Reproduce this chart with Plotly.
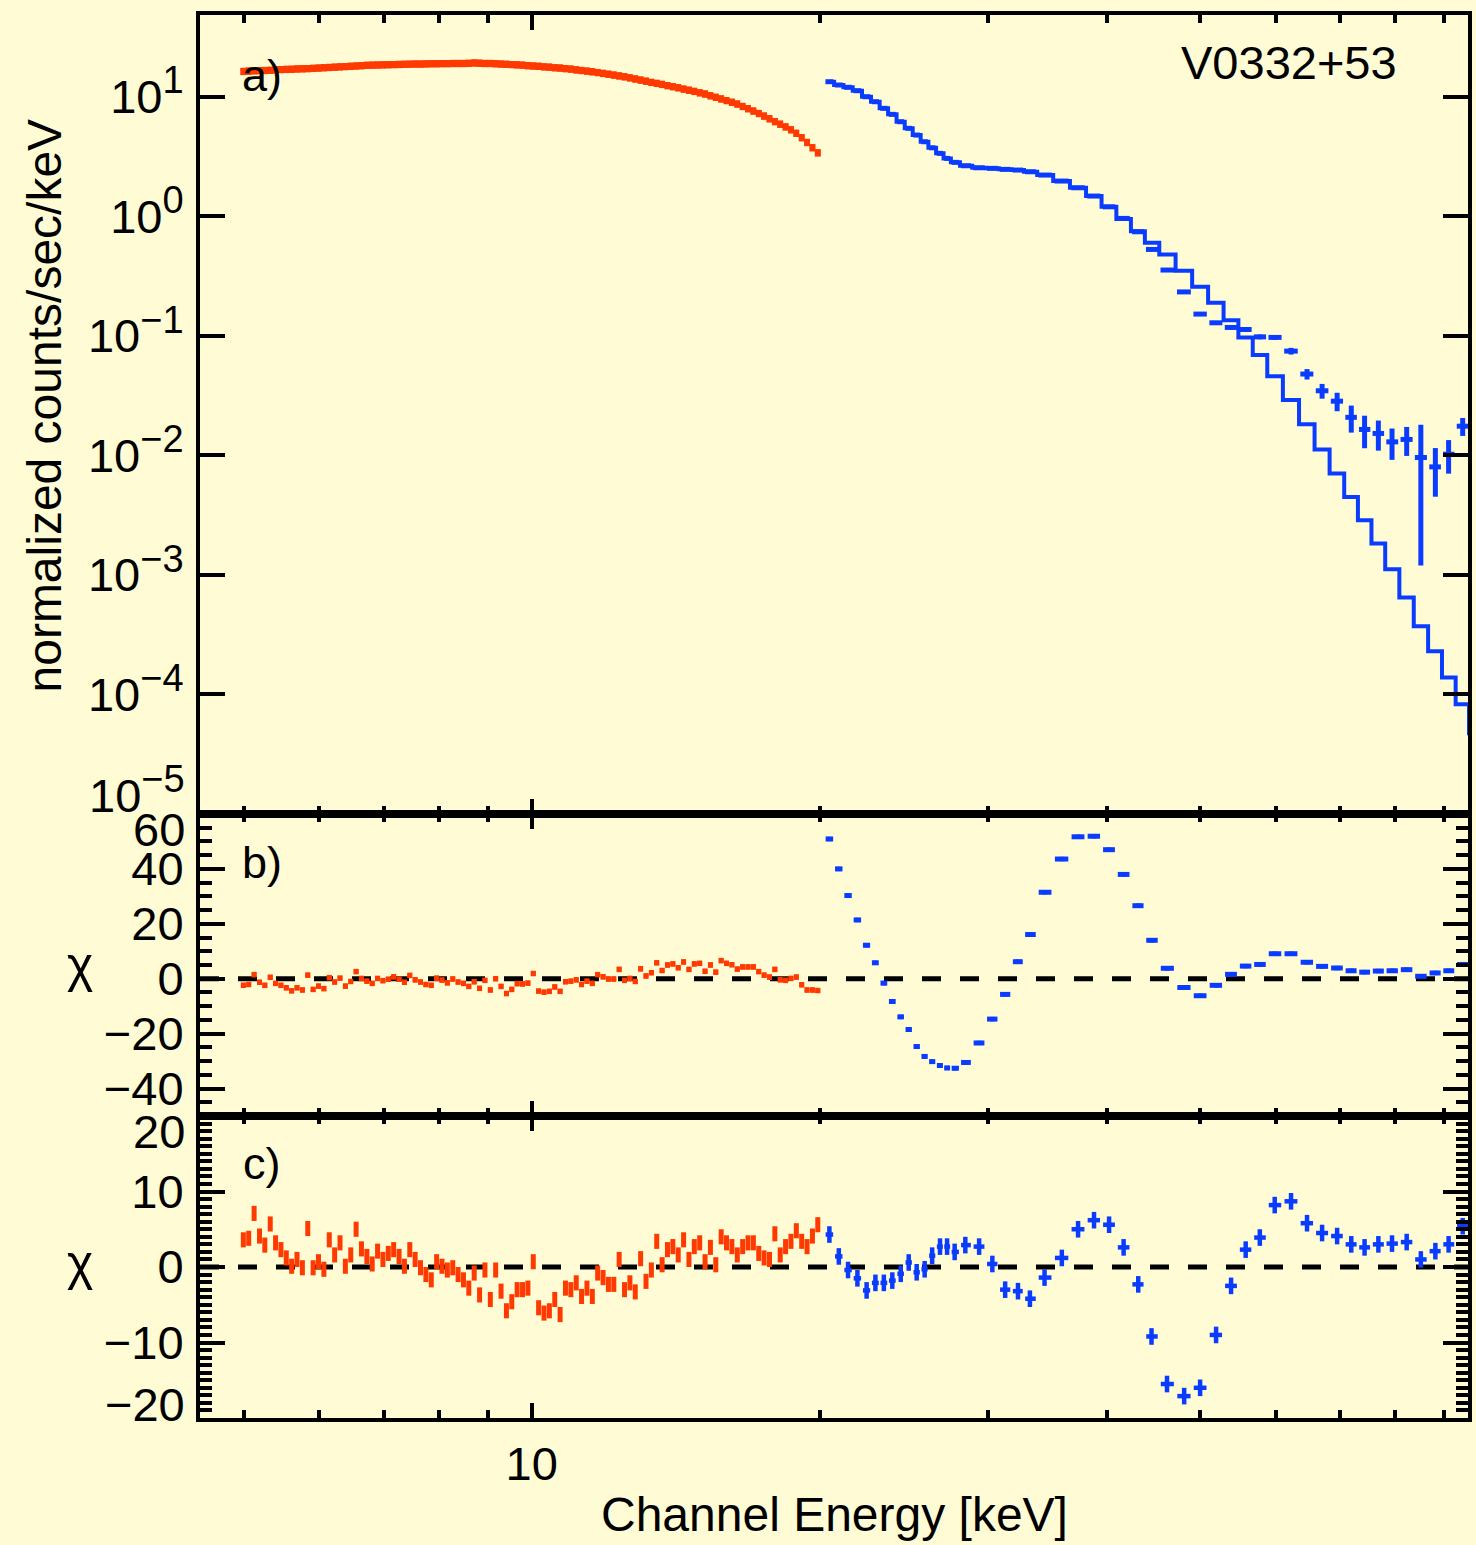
import numpy as np
import plotly.graph_objects as go

# ---------------- data ----------------
red_E = [4.995, 5.060, 5.126, 5.193, 5.260, 5.329, 5.398, 5.468, 5.539, 5.611,
         5.684, 5.758, 5.833, 5.909, 5.986, 6.064, 6.143, 6.223, 6.304, 6.386,
         6.469, 6.553, 6.638, 6.725, 6.812, 6.901, 6.990, 7.081, 7.173, 7.267,
         7.361, 7.457, 7.554, 7.652, 7.752, 7.853, 7.955, 8.058, 8.163, 8.270,
         8.377, 8.486, 8.596, 8.708, 8.822, 8.936, 9.053, 9.170, 9.290, 9.411,
         9.533, 9.657, 9.783, 9.910, 10.039, 10.169, 10.302, 10.436, 10.572, 10.709,
         10.848, 10.990, 11.133, 11.277, 11.424, 11.573, 11.723, 11.876, 12.030, 12.187,
         12.345, 12.506, 12.669, 12.833, 13.000, 13.170, 13.341, 13.514, 13.690, 13.868,
         14.049, 14.232, 14.417, 14.604, 14.794, 14.987, 15.182, 15.379, 15.579, 15.782,
         15.987, 16.195, 16.406, 16.620, 16.836, 17.055, 17.277, 17.501, 17.729, 17.960,
         18.193, 18.430, 18.670, 18.913, 19.159, 19.408, 19.661, 19.916]

red_flux = [16.3, 16.4, 16.5, 16.55, 16.6, 16.65, 16.8, 16.9, 16.95, 17.0,
            17.1, 17.15, 17.2, 17.3, 17.4, 17.5, 17.6, 17.7, 17.8, 17.9,
            18.0, 18.1, 18.2, 18.35, 18.4, 18.45, 18.5, 18.55, 18.6, 18.65,
            18.7, 18.75, 18.8, 18.8, 18.85, 18.9, 18.9, 18.95, 18.95, 19.0,
            19.0, 19.0, 19.05, 19.2, 19.1, 19.0, 19.0, 18.9, 18.8, 18.7,
            18.6, 18.5, 18.4, 18.2, 18.1, 18.0, 17.8, 17.7, 17.5, 17.4,
            17.2, 17.05, 16.8, 16.6, 16.4, 16.2, 15.95, 15.7, 15.45, 15.2,
            14.95, 14.7, 14.4, 14.1, 13.8, 13.5, 13.2, 12.95, 12.7, 12.4,
            12.15, 11.9, 11.6, 11.35, 11.1, 10.8, 10.55, 10.2, 9.9, 9.6,
            9.3, 9.0, 8.7, 8.3, 7.95, 7.6, 7.25, 6.9, 6.55, 6.2,
            5.9, 5.6, 5.3, 4.95, 4.55, 4.15, 3.75, 3.4]

red_chi_b = [-2.4, -2.1, 1.5, -1.3, -2.4, 0.5, -1.7, -2.4, -3.3, -4.4,
             -3.3, -4.1, 1.3, -3.9, -2.7, -3.6, 0.4, -1.2, 0.2, -2.7,
             -1.0, 2.6, 0.1, -0.9, -1.7, 0.1, -0.7, -0.2, 0.7, -0.2,
             -1.3, 1.2, -0.4, -1.2, -2.1, -2.4, 0.2, -0.5, -1.5, -0.1,
             -1.2, -1.7, -2.8, -1.1, -3.5, -0.6, -4.1, 0.0, -2.8, -5.4,
             -3.9, -1.8, -1.9, -1.6, 1.9, -4.5, -4.9, -4.6, -3.0, -4.6,
             -1.1, -0.9, -0.4, -2.1, -0.9, -1.7, 1.5, 0.7, -0.1, -0.1,
             3.4, -0.6, 0.1, -1.0, 3.6, 1.0, 2.2, 5.8, 3.0, 5.0,
             5.4, 4.0, 6.1, 3.4, 5.4, 5.6, 2.7, 5.0, 2.4, 6.6,
             5.6, 5.1, 3.5, 4.3, 4.3, 4.3, 2.6, 1.3, 0.6, 3.4,
             -0.4, -0.6, 0.1, 0.6, -2.2, -4.1, -4.1, -4.3]

red_chi_c = [3.6, 3.8, 7.1, 4.1, 2.9, 5.7, 3.2, 2.3, 1.2, 0.1,
             1.0, -0.1, 5.1, -0.1, 0.7, -0.3, 3.6, 1.6, 3.2, 0.1,
             1.6, 5.0, 2.4, 1.4, 0.4, 2.1, 1.0, 1.8, 2.3, 1.4,
             0.1, 2.3, 1.0, -0.1, -1.0, -1.7, 0.7, 0.1, -0.4, -0.1,
             -1.0, -1.7, -2.8, -0.8, -3.7, -0.4, -4.3, -0.4, -3.2, -5.8,
             -4.6, -3.0, -3.0, -2.8, 0.7, -5.4, -6.1, -5.8, -4.3, -6.3,
             -2.8, -3.0, -2.1, -3.9, -2.8, -3.9, -0.8, -1.4, -2.3, -2.3,
             1.0, -3.0, -2.1, -3.3, 1.1, -1.9, -0.4, 3.4, 0.3, 2.3,
             2.7, 1.6, 3.6, 1.0, 2.7, 3.2, 0.7, 2.6, 0.3, 4.0,
             3.2, 2.7, 1.6, 2.7, 3.2, 3.2, 1.8, 1.2, 1.0, 4.4,
             1.6, 2.7, 3.4, 4.8, 3.4, 2.7, 4.1, 5.6]

blue_E = [20.48, 20.95, 21.42, 21.91, 22.40, 22.88, 23.35, 23.83, 24.32, 24.79,
          25.27, 25.76, 26.23, 26.73, 27.19, 27.69, 28.41, 29.37, 30.32, 31.27,
          32.25, 33.19, 34.38, 35.84, 37.27, 38.73, 40.16, 41.59, 43.08, 44.48,
          46.17, 48.12, 50.00, 51.96, 53.87, 55.80, 57.73, 59.84, 62.24, 64.68,
          67.07, 69.54, 71.95, 74.29, 76.80, 79.37, 82.22, 85.07, 88.10, 90.95,
          94.09]

blue_flux = [13.35, 12.53, 11.99, 11.23, 10.0, 9.08, 8.0, 7.12, 6.18, 5.44,
             4.78, 4.20, 3.74, 3.36, 3.05, 2.825, 2.646, 2.546, 2.517, 2.469,
             2.436, 2.357, 2.212, 1.971, 1.732, 1.476, 1.20, 0.96, 0.742, 0.528,
             0.355, 0.233, 0.152, 0.1285, 0.1175, 0.113, 0.098, 0.097, 0.0745, 0.0479,
             0.0347, 0.0284, 0.0208, 0.01647, 0.01525, 0.01297, 0.01359, 0.0096, 0.00801, 0.01023,
             0.01754]

blue_flux_err = [0.06, 0.06, 0.05, 0.05, 0.045, 0.04, 0.035, 0.03, 0.03, 0.025,
                 0.025, 0.02, 0.02, 0.02, 0.018, 0.017, 0.016, 0.016, 0.016, 0.016,
                 0.016, 0.015, 0.015, 0.014, 0.013, 0.012, 0.011, 0.01, 0.009, 0.008,
                 0.007, 0.006, 0.005, 0.0045, 0.0045, 0.0045, 0.0045, 0.0045, 0.0048, 0.0048,
                 0.0049, 0.005, 0.0053, 0.005, 0.0043, 0.0038, 0.0037, 0.0084, 0.0035, 0.0032,
                 0.003]

model_E = blue_E + [97.0]
model_flux = [13.35, 12.53, 11.99, 11.23, 10.0, 9.08, 8.0, 7.12, 6.18, 5.44,
              4.78, 4.20, 3.74, 3.36, 3.05, 2.825, 2.646, 2.546, 2.517, 2.469,
              2.436, 2.357, 2.212, 1.971, 1.732, 1.476, 1.20, 0.95, 0.75, 0.600,
              0.48, 0.350, 0.257, 0.189, 0.1353, 0.0970, 0.0690, 0.0460, 0.0290, 0.01824,
              0.01120, 0.00706, 0.00449, 0.00287, 0.00183, 0.001116, 0.000647, 0.000372, 0.000230, 0.0001385,
              0.0000828, 0.0000473]

blue_chi_b = [50.9, 40.0, 30.3, 21.4, 12.2, 5.8, -1.6, -8.3, -13.9, -18.5,
              -24.7, -28.3, -30.2, -31.6, -32.5, -32.6, -30.5, -23.4, -14.7, -5.7,
              6.2, 16.1, 31.5, 43.6, 51.7, 51.9, 47.0, 38.0, 26.6, 14.0,
              3.8, -3.2, -6.2, -2.4, 1.6, 4.6, 5.2, 9.1, 9.1, 6.0,
              4.5, 3.9, 2.9, 2.4, 2.8, 2.9, 3.3, 0.9, 2.1, 2.9,
              5.2]

blue_chi_c = [4.3, 1.4, -0.4, -1.5, -3.1, -2.1, -2.1, -1.8, -0.9, 0.6,
              -0.7, -0.3, 1.5, 2.7, 2.7, 2.0, 2.9, 2.7, 0.4, -3.0,
              -3.2, -4.2, -1.4, 1.2, 5.0, 6.2, 5.6, 2.6, -2.3, -9.2,
              -15.5, -17.1, -16.0, -9.0, -2.5, 2.3, 3.9, 8.2, 8.7, 5.8,
              4.5, 4.1, 3.0, 2.6, 3.0, 3.1, 3.3, 1.0, 2.1, 3.0,
              5.4]

SUP = '<sup><span style="font-size:38px">{}</span></sup>'
y_tick_vals_a = [1e-4, 1e-3, 1e-2, 1e-1, 1e0, 1e1]
y_tick_exps_a = ["\u22124", "\u22123", "\u22122", "\u22121", "0", "1"]
y_tick_text_a = ["10" + SUP.format(e) for e in y_tick_exps_a]
y_tick_vals_b = [-40, -20, 0, 20, 40]
y_tick_text_b = ["\u221240", "\u221220", "0", "20", "40"]
y_tick_vals_c = [-10, 0, 10]
y_tick_text_c = ["\u221210", "0", "10"]

# ---------------- style ----------------
RED = "#ff3a00"
BLUE = "#0a3cff"
BG = "#fffcd5"
FONT = "Liberation Sans"
FS = 47

L, R, T, B = 200, 1472, 15, 1418
W, H = R - L, B - T


def px(x):
    return (x - L) / W


def py(y):
    return (B - y) / H


def half_widths(E, frac):
    E = np.asarray(E, dtype=float)
    lE = np.log10(E)
    d = np.diff(lE)
    left = np.concatenate([[d[0]], d])
    right = np.concatenate([d, [d[-1]]])
    plus = 10 ** (lE + frac * right) - E
    minus = E - 10 ** (lE - frac * left)
    return plus, minus


def err_trace(x, y, xfrac, ey, color, th, xa, ya, ey_percent=None, xth=None):
    xp, xm = half_widths(x, xfrac)
    if ey_percent is not None:
        ey_d = dict(type="percent", value=ey_percent, thickness=th, width=0, color=color)
    else:
        ey_d = dict(type="data", array=ey, thickness=th, width=0, color=color)
    return go.Scatter(
        x=x, y=y, mode="markers",
        marker=dict(size=2, color=color),
        error_x=dict(type="data", symmetric=False, array=xp, arrayminus=xm,
                     thickness=xth if xth else th, width=0, color=color),
        error_y=ey_d,
        xaxis=xa, yaxis=ya, showlegend=False, hoverinfo="skip",
    )


fig = go.Figure()

# panel a
fig.add_trace(err_trace(red_E, red_flux, 0.5, None, RED, 6, "x", "y", ey_percent=7, xth=7))
fig.add_trace(go.Scatter(x=model_E, y=model_flux, mode="lines",
                         line=dict(shape="hvh", color=BLUE, width=4),
                         xaxis="x", yaxis="y", showlegend=False, hoverinfo="skip"))
fig.add_trace(err_trace(blue_E, blue_flux, 0.42, blue_flux_err, BLUE, 5, "x", "y"))

# panel b
fig.add_trace(err_trace(red_E, red_chi_b, 0.45, [1.0] * len(red_E), RED, 5, "x2", "y2"))
fig.add_trace(err_trace(blue_E, blue_chi_b, 0.4, [0.8] * len(blue_E), BLUE, 5, "x2", "y2"))

# panel c
fig.add_trace(err_trace(red_E, red_chi_c, 0.3, [1.0] * len(red_E), RED, 5, "x3", "y3"))
fig.add_trace(err_trace(blue_E, blue_chi_c, 0.4, [1.1] * len(blue_E), BLUE, 4.5, "x3", "y3"))

xminor = [5, 6, 7, 8, 9, 20, 30, 40, 50, 60, 70, 80, 90]
xrange_ = [np.log10(4.5), np.log10(95.3)]


def xaxis_cfg(anchor, labels):
    d = dict(type="log", range=xrange_, domain=[0, 1], anchor=anchor,
             showgrid=False, zeroline=False, showline=True, linewidth=4,
             linecolor="black", mirror="allticks", ticks="inside",
             tickmode="array", tickvals=[10], ticktext=["10"],
             ticklen=15, tickwidth=3.5, tickcolor="black",
             minor=dict(tickmode="array", tickvals=xminor, ticklen=8, tickwidth=3.5,
                        tickcolor="black", ticks="inside", showgrid=False),
             showticklabels=labels,
             tickfont=dict(family=FONT, size=FS, color="black"))
    if labels:
        d["ticklabelstandoff"] = 2
    return d


def yaxis_cfg(anchor, domain, rng, vals, text, minor_vals, typ="linear"):
    d = dict(type=typ, range=rng, domain=domain, anchor=anchor,
             showgrid=False, zeroline=False, showline=True, linewidth=4,
             linecolor="black", mirror="allticks", ticks="inside",
             tickmode="array", tickvals=vals, ticktext=text,
             ticklen=25, tickwidth=3.5, tickcolor="black",
             tickfont=dict(family=FONT, size=FS, color="black"),
             ticklabelstandoff=3)
    if minor_vals:
        d["minor"] = dict(tickmode="array", tickvals=minor_vals, ticklen=12,
                          tickwidth=3.5, tickcolor="black", ticks="inside", showgrid=False)
    return d


ya_dom = [py(814), 1.0]
yb_dom = [py(1116), py(814)]
yc_dom = [0.0, py(1116)]

minor_b = [v for v in range(-45, 60, 5) if v % 20 != 0]
minor_c = [v for v in range(-19, 20) if v % 10 != 0]

fig.update_layout(
    width=1476, height=1545, autosize=False,
    margin=dict(l=L, r=1476 - R, t=T, b=1545 - B, pad=0),
    paper_bgcolor=BG, plot_bgcolor=BG,
    font=dict(family=FONT, size=FS, color="black"),
    xaxis=xaxis_cfg("y", False),
    xaxis2=xaxis_cfg("y2", False),
    xaxis3=xaxis_cfg("y3", True),
    yaxis=yaxis_cfg("x", ya_dom, [-5, 1.6837], y_tick_vals_a, y_tick_text_a, None, typ="log"),
    yaxis2=yaxis_cfg("x2", yb_dom, [-50, 60], y_tick_vals_b, y_tick_text_b, minor_b),
    yaxis3=yaxis_cfg("x3", yc_dom, [-20, 20], y_tick_vals_c, y_tick_text_c, minor_c),
    showlegend=False,
)

# zero lines
for xr, yr in (("x2", "y2"), ("x3", "y3")):
    fig.add_shape(type="line", xref=f"{xr} domain", yref=yr, x0=0, x1=1, y0=0, y1=0,
                  line=dict(color="black", width=5, dash="19px,19px"), layer="below")


def ann(text, x, y, size=FS, angle=0, xanchor="center", yanchor="middle"):
    fig.add_annotation(text=text, x=px(x), y=py(y), xref="paper", yref="paper",
                       showarrow=False, textangle=angle, xanchor=xanchor, yanchor=yanchor,
                       font=dict(family=FONT, size=size, color="black"))


ann("a)", 262, 76, size=45)
ann("b)", 262, 862, size=45)
ann("c)", 262, 1163, size=45)
ann("V0332+53", 1292, 62)
ann("normalized counts/sec/keV", 45, 405, size=48, angle=-90)
ann("\u03c7", 80, 965, size=50)
ann("\u03c7", 80, 1263, size=50)
ann("Channel Energy [keV]", 836, 1515, size=48)

# edge tick labels (pushed inside, as in the original)
ann("10" + SUP.format("\u22125"), 187, 790, xanchor="right")
ann("60", 187, 829, xanchor="right")
ann("20", 187, 1131, xanchor="right")
ann("\u221220", 187, 1404, xanchor="right")

fig.write_html("out.html")
